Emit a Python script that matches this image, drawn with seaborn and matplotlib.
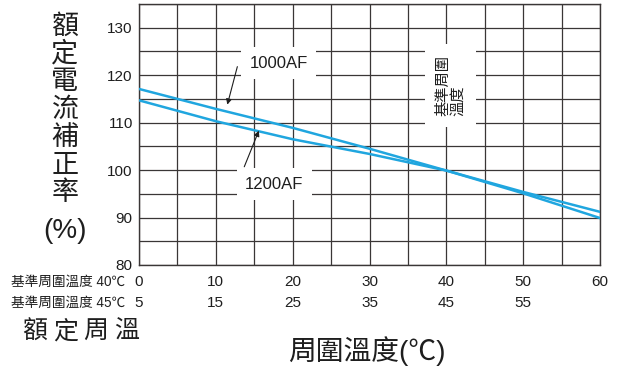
import matplotlib
matplotlib.use("Agg")
import matplotlib.pyplot as plt
import matplotlib.transforms as mtransforms
import seaborn as sns
import pandas as pd

# ---- data ----
temps = [0, 10, 20, 30, 40, 50, 60]
af1000 = [117.1, 112.9, 108.9, 104.5, 99.9, 95.4, 91.2]
af1200 = [114.7, 110.3, 106.5, 103.4, 99.9, 95.1, 89.9]
row1_labels = ["0", "10", "20", "30", "40", "50", "60"]
row2_labels = ["5", "15", "25", "35", "45", "55"]
yticks = [80, 90, 100, 110, 120, 130]
ylabel_chars = "額定電流補正率"
bottom_left_chars = "額定周溫"

sns.set_theme(style="white")
FONT = ["Liberation Sans", "Noto Sans CJK TC", "DejaVu Sans"]
plt.rcParams["font.family"] = FONT

W, H = 625, 369

def fx(px):
    return px / W

def fy(py):
    return 1 - py / H

df = pd.DataFrame({
    "temp": temps * 2,
    "value": af1000 + af1200,
    "series": ["1000AF"] * len(temps) + ["1200AF"] * len(temps),
})

fig = plt.figure(figsize=(6.25, 3.69), dpi=100)
ax = fig.add_axes([fx(139), fy(265), fx(600) - fx(139), fy(4) - fy(265)])

LINE = "#20A6DF"
GRID = "#3a3636"
TXT = "#1e1e1e"
sns.lineplot(data=df, x="temp", y="value", hue="series",
             palette=[LINE, LINE], linewidth=1.8, legend=False, ax=ax, zorder=3)

ax.set_xlim(0, 60)
ax.set_ylim(80, 135)
ax.set_xticks(range(0, 61, 5))
ax.set_yticks(range(80, 136, 5))
ax.grid(True, color=GRID, linewidth=0.9)
for s in ax.spines.values():
    s.set_color(GRID)
    s.set_linewidth(1.0)

ax.set_xticklabels([])
ax.set_yticklabels([str(v) if v in yticks else "" for v in range(80, 136, 5)],
                   fontsize=11, color=TXT)
ax.tick_params(axis="both", length=0, pad=4.5)
ax.set_xlabel("")
ax.set_ylabel("")

trans = mtransforms.blended_transform_factory(ax.transData, fig.transFigure)
for i, lab in enumerate(row1_labels):
    ax.text(temps[i], fy(282), lab, transform=trans, ha="center",
            va="center", fontsize=11, color=TXT)
for i, lab in enumerate(row2_labels):
    ax.text(temps[i], fy(303), lab, transform=trans, ha="center",
            va="center", fontsize=11, color=TXT)

fig.text(fx(11), fy(282), "基準周圍溫度 40℃", ha="left", va="center",
         fontsize=9.8, color=TXT, fontweight="medium")
fig.text(fx(11), fy(303), "基準周圍溫度 45℃", ha="left", va="center",
         fontsize=9.8, color=TXT, fontweight="medium")
for i, ch in enumerate(bottom_left_chars):
    fig.text(fx(35 + i * 30.5), fy(332), ch, ha="center", va="center",
             fontsize=18, color=TXT, fontweight="medium")
fig.text(fx(367), fy(351), "周圍溫度(℃)", ha="center", va="center",
         fontsize=20, color=TXT, fontweight="medium")

# y label, stacked characters
for i, ch in enumerate(ylabel_chars):
    fig.text(fx(65), fy(26.5 + i * 27.8), ch, ha="center", va="center",
             fontsize=19.5, color=TXT, fontweight="medium")
fig.text(fx(65), fy(231), "(%)", ha="center", va="center",
         fontsize=20, color=TXT)

# annotations
box = dict(facecolor="white", edgecolor="none", pad=6)
ax.text(18.2, 122.5, "1000AF", ha="center", va="center", fontsize=12,
        color=TXT, bbox=box, zorder=4)
ax.text(17.6, 97.0, "1200AF", ha="center", va="center", fontsize=12,
        color=TXT, bbox=box, zorder=4)
arrow = dict(arrowstyle="-|>", lw=0.8, color=TXT, mutation_scale=8,
             shrinkA=0, shrinkB=0)
ax.annotate("", xy=(11.5, 113.8), xytext=(12.8, 121.8), arrowprops=arrow, zorder=5)
ax.annotate("", xy=(15.6, 108.3), xytext=(13.7, 100.7), arrowprops=arrow, zorder=5)

ax.text(40.6, 117.8, "基準周圍\n溫度", rotation=90, ha="center", va="center",
        multialignment="left", fontsize=11, color=TXT, linespacing=1.05,
        fontweight="medium",
        bbox=dict(facecolor="white", edgecolor="none", pad=8), zorder=4)

fig.savefig("out.png", dpi=100)
